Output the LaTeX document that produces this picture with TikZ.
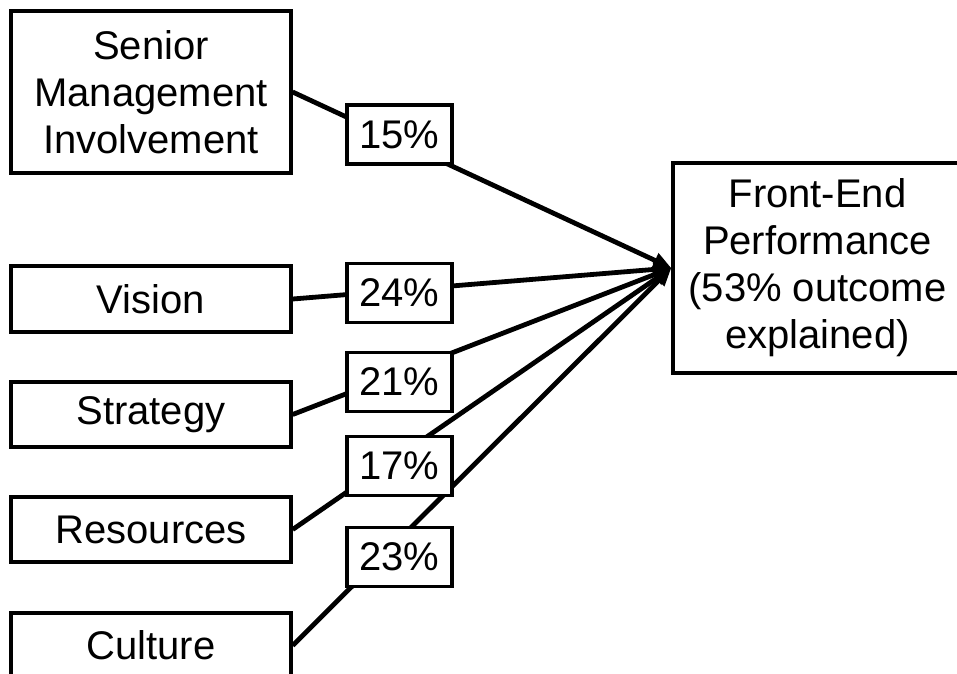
\documentclass[tikz,border=0pt]{standalone}
\usepackage{fontspec}
\setmainfont{Liberation Sans}
\usetikzlibrary{arrows.meta}

\begin{document}
\begin{tikzpicture}[x=1pt,y=-1pt,
  factor/.style={draw,line width=3.3pt,fill=white,inner sep=0pt,align=center,
    minimum width=280pt,font=\fontsize{40}{47}\selectfont},
  share/.style={draw,line width=3.3pt,fill=white,inner sep=0pt,
    minimum width=105pt,minimum height=59pt,font=\fontsize{40}{47}\selectfont},
  link/.style={line width=4.8pt,-{Triangle[length=18pt,width=15pt]}}]
        \useasboundingbox (0,0) rectangle (957,673);
        \clip (0,0) rectangle (957,673);
        \node[factor,minimum height=162pt] (senior) at (151,92) {Senior\\Management\\Involvement};
        \node[factor,minimum height=66pt] (vision) at (151,299) {Vision};
        \node[factor,minimum height=65pt] (strategy) at (151,414.5) {Strategy};
        \node[factor,minimum height=65pt] (resources) at (151,529.5) {Resources};
        \node[factor,minimum height=65pt] (culture) at (151,645.5) {Culture};
        \node[factor,minimum width=289pt,minimum height=210pt] (perf) at (817.5,268)
          {Front-End\\Performance\\(53\% outcome\\explained)};
          \draw[link] (senior.east) -- (perf.west);
          \draw[link] (vision.east) -- (perf.west);
          \draw[link] (strategy.east) -- (perf.west);
          \draw[link] (resources.east) -- (perf.west);
          \draw[link] (culture.east) -- (perf.west);
        \node[share] (p15) at (399.5,134.5) {15\%};
        \node[share] (p24) at (399.5,293) {24\%};
        \node[share] (p21) at (399.5,382) {21\%};
        \node[share] (p17) at (399.5,466) {17\%};
        \node[share] (p23) at (399.5,557) {23\%};
      \end{tikzpicture}
\end{document}
